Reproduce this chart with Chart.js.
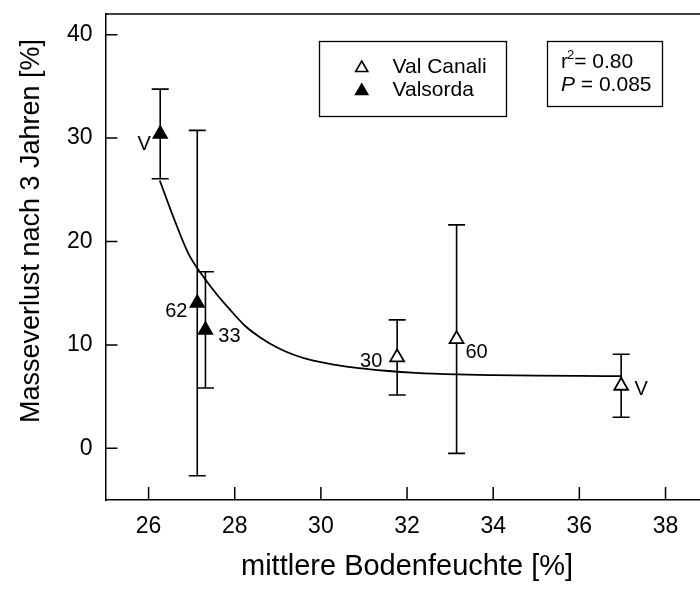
<!DOCTYPE html>
<html><head><meta charset="utf-8">
<script src="https://cdn.jsdelivr.net/npm/chart.js@4.4.0/dist/chart.umd.min.js"></script>
<style>
html,body{margin:0;padding:0;background:#fff;overflow:hidden;width:700px;height:592px;}
#wrap{position:relative;width:712px;height:592px;}
canvas{display:block;}
</style></head><body>
<div id="wrap"><canvas id="c" width="712" height="592"></canvas></div>
<script>
// ---- data ----
const xTickValues = [26, 28, 30, 32, 34, 36, 38];
const yTickValues = [0, 10, 20, 30, 40];

const seriesNames = ['Val Canali', 'Valsorda'];

const valCanaliX = [31.77, 33.15, 36.97];
const valCanaliY = [8.79, 10.56, 6.05];
const valCanaliErr = [3.63, 11.05, 3.05];
const valCanaliLabels = ['30', '60', 'V'];

const valsordaX = [26.27, 27.13, 27.32];
const valsordaY = [30.4, 14.05, 11.45];
const valsordaErr = [4.33, 16.7, 5.62];
const valsordaLabels = ['V', '62', '33'];

const fitX = [26.26, 26.6, 26.94, 27.29, 27.6, 27.87, 28.25, 28.6, 29.03, 29.4, 29.8, 30.3, 30.88, 31.5, 32.2, 33.15, 34, 35, 36, 36.97];
const fitY = [25.9, 22.1, 18.7, 16.5, 14.8, 13.5, 11.8, 10.7, 9.65, 9.0, 8.5, 8.1, 7.75, 7.5, 7.3, 7.15, 7.08, 7.03, 7.0, 6.98];

const statR2 = '0.80';
const statP = '0.085';
const xTitle = 'mittlere Bodenfeuchte [%]';
const yTitle = 'Masseverlust nach 3 Jahren [%]';

// ---- styles / label placement (pixel offsets from the point) ----
const valCanaliLabelOffsets = [[-26, 4.5], [20, 13], [20, 4]];
const valsordaLabelOffsets = [[-16, 11], [-21, 8], [24, 6.5]];
const FONT = "'Liberation Sans', Arial, Helvetica, sans-serif";

const toPts = (xs, ys) => xs.map((x, i) => ({x: x, y: ys[i]}));

const errSets = [
  {xs: valCanaliX, ys: valCanaliY, err: valCanaliErr, labels: valCanaliLabels, offs: valCanaliLabelOffsets},
  {xs: valsordaX, ys: valsordaY, err: valsordaErr, labels: valsordaLabels, offs: valsordaLabelOffsets}
];

function tri(ctx, x, y, r) {
  ctx.beginPath();
  let rad = 0;
  ctx.moveTo(x + Math.sin(rad) * r, y - Math.cos(rad) * r);
  rad += 2 * Math.PI / 3;
  ctx.lineTo(x + Math.sin(rad) * r, y - Math.cos(rad) * r);
  rad += 2 * Math.PI / 3;
  ctx.lineTo(x + Math.sin(rad) * r, y - Math.cos(rad) * r);
  ctx.closePath();
}

const extras = {
  id: 'extras',
  beforeDatasetsDraw(chart) {
    const {ctx, scales: {x, y}} = chart;
    ctx.save();
    ctx.strokeStyle = '#000';
    ctx.lineWidth = 1.6;
    errSets.forEach(s => {
      s.xs.forEach((xv, i) => {
        const px = x.getPixelForValue(xv);
        const pt = y.getPixelForValue(s.ys[i] + s.err[i]);
        const pb = y.getPixelForValue(s.ys[i] - s.err[i]);
        ctx.beginPath();
        ctx.moveTo(px, pt); ctx.lineTo(px, pb);
        ctx.moveTo(px - 8.5, pt); ctx.lineTo(px + 8.5, pt);
        ctx.moveTo(px - 8.5, pb); ctx.lineTo(px + 8.5, pb);
        ctx.stroke();
      });
    });
    ctx.restore();
  },
  afterDatasetsDraw(chart) {
    const {ctx, chartArea: a, scales: {x, y}} = chart;
    ctx.save();
    ctx.strokeStyle = '#000';
    ctx.lineWidth = 1.5;
    // frame top + right
    ctx.beginPath();
    ctx.moveTo(a.left, a.top); ctx.lineTo(a.right, a.top); ctx.lineTo(a.right, a.bottom);
    ctx.stroke();
    // inward ticks
    ctx.beginPath();
    xTickValues.forEach(v => {
      const px = x.getPixelForValue(v);
      ctx.moveTo(px, a.bottom); ctx.lineTo(px, a.bottom - 13);
    });
    yTickValues.forEach(v => {
      const py = y.getPixelForValue(v);
      ctx.moveTo(a.left, py); ctx.lineTo(a.left + 12, py);
    });
    ctx.stroke();
    // y axis title
    ctx.fillStyle = '#000';
    ctx.save();
    ctx.translate(32, 231);
    ctx.rotate(-Math.PI / 2);
    ctx.font = '27px ' + FONT;
    ctx.textAlign = 'center';
    ctx.textBaseline = 'middle';
    ctx.fillText(yTitle, 0, 0);
    ctx.restore();
    // point labels
    ctx.font = '20px ' + FONT;
    ctx.textAlign = 'center';
    ctx.textBaseline = 'middle';
    errSets.forEach(s => {
      s.xs.forEach((xv, i) => {
        const px = x.getPixelForValue(xv);
        const py = y.getPixelForValue(s.ys[i]);
        ctx.fillText(s.labels[i], px + s.offs[i][0], py + s.offs[i][1]);
      });
    });
    // legend box
    ctx.lineWidth = 1.3;
    ctx.strokeRect(319.5, 41.5, 187, 75);
    ctx.lineWidth = 1.6;
    tri(ctx, 361.7, 68, 7); ctx.fillStyle = '#fff'; ctx.fill(); ctx.stroke();
    tri(ctx, 361.7, 91, 7); ctx.fillStyle = '#000'; ctx.fill(); ctx.stroke();
    ctx.fillStyle = '#000';
    ctx.font = '21px ' + FONT;
    ctx.textAlign = 'left';
    ctx.fillText(seriesNames[0], 392.5, 67);
    ctx.fillText(seriesNames[1], 392.5, 90);
    // stats box
    ctx.lineWidth = 1.3;
    ctx.strokeRect(547.5, 41.5, 115, 65);
    ctx.font = '21px ' + FONT;
    let tx = 561;
    ctx.fillText('r', tx, 62);
    tx += ctx.measureText('r').width;
    ctx.font = '13px ' + FONT;
    ctx.fillText('2', tx - 1, 55);
    tx += ctx.measureText('2').width - 1;
    ctx.font = '21px ' + FONT;
    ctx.fillText('= ' + statR2, tx, 62);
    ctx.font = 'italic 21px ' + FONT;
    ctx.fillText('P', 561, 85);
    const pw = ctx.measureText('P').width;
    ctx.font = '21px ' + FONT;
    ctx.fillText(' = ' + statP, 561 + pw, 85);
    ctx.restore();
  }
};

Chart.defaults.font.family = FONT;
Chart.defaults.color = '#000';

new Chart(document.getElementById('c'), {
  type: 'scatter',
  data: {
    datasets: [
      {label: 'fit', type: 'line', data: toPts(fitX, fitY), borderColor: '#000', borderWidth: 1.8,
       pointRadius: 0, fill: false, tension: 0.4, cubicInterpolationMode: 'monotone', order: 3},
      {label: seriesNames[0], data: toPts(valCanaliX, valCanaliY), pointStyle: 'triangle', pointRadius: 8,
       backgroundColor: '#fff', borderColor: '#000', borderWidth: 1.8, order: 1},
      {label: seriesNames[1], data: toPts(valsordaX, valsordaY), pointStyle: 'triangle', pointRadius: 8,
       backgroundColor: '#000', borderColor: '#000', borderWidth: 1.5, order: 2}
    ]
  },
  options: {
    responsive: false,
    animation: false,
    devicePixelRatio: 1,
    layout: {autoPadding: false, padding: {top: 14, right: 3.4, left: 0, bottom: 0}},
    plugins: {legend: {display: false}, tooltip: {enabled: false}},
    scales: {
      x: {
        type: 'linear', min: 25, max: 39,
        afterBuildTicks: s => { s.ticks = xTickValues.map(v => ({value: v})); },
        afterFit: s => { s.height = 92; s.paddingLeft = 0; s.paddingRight = 0; s.paddingTop = 0; s.paddingBottom = 0; },
        grid: {display: false, drawTicks: false},
        border: {display: true, color: '#000', width: 1.5},
        ticks: {font: {size: 23}, padding: 12.5, color: '#000'},
        title: {display: true, text: xTitle, font: {size: 29}, padding: {top: 0, bottom: 7.6}, color: '#000'}
      },
      y: {
        type: 'linear', min: -5, max: 42,
        afterBuildTicks: s => { s.ticks = yTickValues.map(v => ({value: v})); },
        afterFit: s => { s.width = 105.5; s.paddingTop = 0; s.paddingBottom = 0; s.paddingLeft = 0; s.paddingRight = 0; },
        grid: {display: false, drawTicks: false},
        border: {display: true, color: '#000', width: 1.5},
        ticks: {font: {size: 23}, padding: 13, color: '#000'},
        title: {display: false}
      }
    }
  },
  plugins: [extras]
});
</script>
</body></html>
